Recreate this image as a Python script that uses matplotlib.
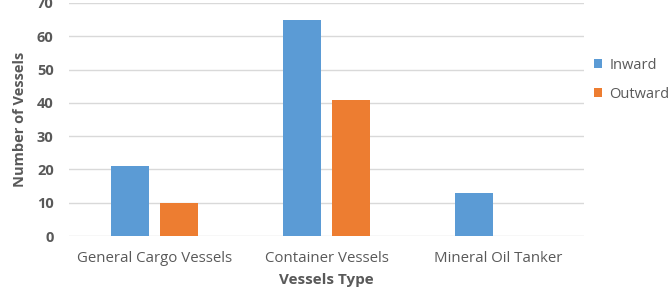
import matplotlib
matplotlib.use("Agg")
import matplotlib.pyplot as plt
import numpy as np

categories = ["General Cargo Vessels", "Container Vessels", "Mineral Oil Tanker"]
inward = [21, 65, 13]
outward = [10, 41, 0]
series_names = ["Inward", "Outward"]
yticks = [0, 10, 20, 30, 40, 50, 60, 70]

plt.rcParams['font.family'] = ['Open Sans', 'DejaVu Sans']
gray = "#595959"

fig = plt.figure(figsize=(6.69, 2.91), dpi=100)
ax = fig.add_axes([69 / 669, 1 - 236 / 291, 515 / 669, 233 / 291])

x = np.arange(len(categories))
w = 0.221
gap = 0.064
ax.bar(x - (w + gap) / 2, inward, w, color="#5B9BD5", label=series_names[0], zorder=3)
ax.bar(x + (w + gap) / 2, outward, w, color="#ED7D31", label=series_names[1], zorder=3)

ax.set_xlim(-0.5, 2.5)
ax.set_ylim(0, 70)
ax.set_yticks(yticks)
ax.set_yticklabels([str(t) for t in yticks], fontsize=10.5, color=gray, fontweight="bold")
ax.set_xticks(x)
ax.set_xticklabels(categories, fontsize=10.8, color=gray)
ax.tick_params(axis="both", length=0)
ax.tick_params(axis="y", pad=11)
ax.tick_params(axis="x", pad=11)
ax.grid(axis="y", color="#d9d9d9", linewidth=1, zorder=0)
for s in ax.spines.values():
    s.set_visible(False)

ax.set_xlabel("Vessels Type", fontsize=11, color=gray, fontweight="bold", labelpad=5)
ax.set_ylabel("Number of Vessels", fontsize=10.5, color=gray, fontweight="bold", labelpad=7)

leg = ax.legend(loc="center left", bbox_to_anchor=(1.0, 0.67), frameon=False,
                fontsize=10.5, handlelength=0.55, handleheight=0.55, handletextpad=0.5,
                labelspacing=0.95, borderaxespad=0.3)
for t in leg.get_texts():
    t.set_color(gray)

fig.savefig("out.png", dpi=100)
